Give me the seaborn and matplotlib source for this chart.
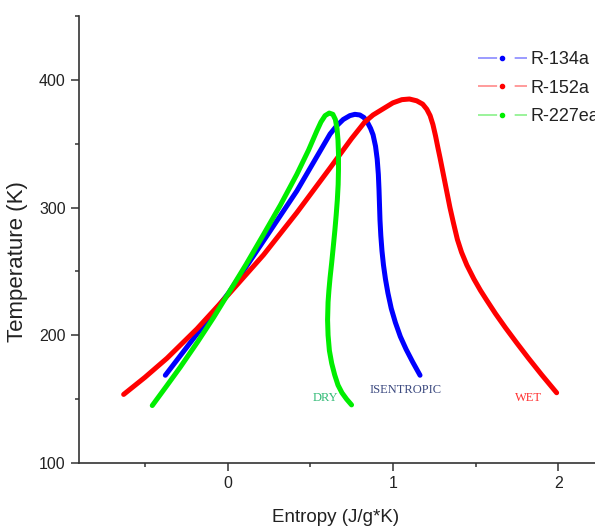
import matplotlib
matplotlib.use('Agg')
import matplotlib.pyplot as plt
import seaborn as sns
import pandas as pd
from matplotlib.lines import Line2D
from matplotlib.ticker import MultipleLocator

fluids = ['R-134a', 'R-152a', 'R-227ea']
colors = ['#0000ff', '#ff0000', '#00ee00']
legend_line_colors = ['#8080ff', '#ff8080', '#80f080']

s_134a = [-0.376, -0.185, 0.006, 0.218, 0.419, 0.62, 0.66, 0.70, 0.74, 0.77, 0.80, 0.825,
          0.845, 0.865, 0.88, 0.895, 0.905, 0.912, 0.916, 0.919, 0.922, 0.927, 0.934,
          0.943, 0.955, 0.97, 0.99, 1.015, 1.045, 1.08, 1.12, 1.164]
T_134a = [168.7, 201, 233, 274, 313, 357.6, 364, 369, 372, 373, 372.5, 370.5,
          367, 362, 357, 348, 338, 326, 314, 302, 290, 278, 266,
          255, 244, 233, 221, 210, 199, 189, 179, 168.7]

s_152a = [-0.628, -0.5, -0.366, -0.185, 0.006, 0.218, 0.419, 0.62, 0.75, 0.83, 0.88,
          0.943, 1.0, 1.054, 1.10, 1.144, 1.18, 1.205, 1.225, 1.242, 1.258, 1.272,
          1.285, 1.305, 1.325, 1.345, 1.366, 1.39, 1.415, 1.447, 1.49, 1.53, 1.567,
          1.62, 1.68, 1.749, 1.82, 1.90, 1.99]
T_152a = [153.7, 167, 182, 205, 232, 263, 296, 331, 354, 367, 372.5,
          377.5, 382, 384.5, 385, 383.6, 381, 377, 372, 365, 356, 347,
          339, 326, 313, 300, 288, 275, 265, 255, 244, 235, 227.5,
          217, 206, 194, 182, 169, 155]

s_227ea = [-0.455, -0.37, -0.286, -0.18, -0.084, 0.006, 0.11, 0.218, 0.32, 0.419, 0.49,
           0.54, 0.565, 0.59, 0.615, 0.637, 0.652, 0.662, 0.668, 0.671, 0.671, 0.669,
           0.664, 0.657, 0.649, 0.64, 0.63, 0.62, 0.613, 0.608, 0.605, 0.608, 0.616,
           0.63, 0.648, 0.668, 0.692, 0.72, 0.75]
T_227ea = [145, 160, 175, 195, 214, 233, 255, 279, 302, 326, 345,
           360, 367, 372, 374, 373, 369, 362, 353, 342, 330, 318,
           306, 294, 282, 270, 257, 245, 235, 226, 212, 200, 188,
           178, 169, 161, 155, 150, 145.5]

region_labels = ['DRY', 'ISENTROPIC', 'WET']
region_s = [0.59, 1.079, 1.817]
region_T = [150.8, 157, 150.8]
region_colors = ['#33bb77', '#3c4a80', '#ff3030']

frames = []
for name, s, T in [('R-134a', s_134a, T_134a), ('R-152a', s_152a, T_152a),
                   ('R-227ea', s_227ea, T_227ea)]:
    frames.append(pd.DataFrame({'s': s, 'T': T, 'fluid': name}))
df = pd.concat(frames, ignore_index=True)

sns.set_style('ticks')
plt.rcParams['font.family'] = ['Liberation Sans', 'DejaVu Sans']

fig = plt.figure(figsize=(5.95, 5.30), dpi=100)
ax = fig.add_axes([79 / 595, 67 / 530, 1 - 79 / 595, (463 - 16) / 530])

sns.lineplot(data=df, x='s', y='T', hue='fluid', hue_order=fluids,
             palette=dict(zip(fluids, colors)), sort=False, estimator=None,
             lw=3.6, legend=False, ax=ax, solid_capstyle='round',
             solid_joinstyle='round')

ax.set_xlim(-0.898, 2.222)
ax.set_ylim(100, 450)
ax.xaxis.set_major_locator(MultipleLocator(1))
ax.xaxis.set_minor_locator(MultipleLocator(0.5))
ax.yaxis.set_major_locator(MultipleLocator(100))
ax.yaxis.set_minor_locator(MultipleLocator(50))
for sp in ['top', 'right']:
    ax.spines[sp].set_visible(False)
for sp in ['left', 'bottom']:
    ax.spines[sp].set_color('#333333')
    ax.spines[sp].set_linewidth(1.2)
ax.tick_params(which='major', length=6, width=1.1, color='#333333',
               labelsize=11.5, labelcolor='#222222', direction='out')
ax.tick_params(which='minor', length=3, width=1.1, color='#333333', direction='out')

ax.set_xlabel('Entropy (J/g*K)', fontsize=13.5, color='#222222')
ax.set_ylabel('Temperature (K)', fontsize=16, color='#222222')
ax.xaxis.set_label_coords(0.497, -0.102)
ax.yaxis.set_label_coords(-0.099, 0.45)

for lab, s, T, c in zip(region_labels, region_s, region_T, region_colors):
    ax.text(s, T, lab, color=c, fontsize=9, family=['Liberation Serif', 'DejaVu Serif'],
            ha='center', va='center')

handles = []
for c, lc in zip(colors, legend_line_colors):
    handles.append(Line2D([], [], color=lc, lw=1.1, dashes=(12.5, 11.5),
                          marker='o', markersize=3, markerfacecolor=c,
                          markeredgecolor=c))
leg = fig.legend(handles, fluids, numpoints=1,
                 loc='upper left', bbox_to_anchor=(478 / 595, 1 - 51 / 530),
                 frameon=False, fontsize=13, handlelength=2.7, handletextpad=0.2,
                 labelspacing=0.65, borderpad=0, borderaxespad=0)
for t in leg.get_texts():
    t.set_color('#222222')

fig.savefig('out.png', dpi=100)
